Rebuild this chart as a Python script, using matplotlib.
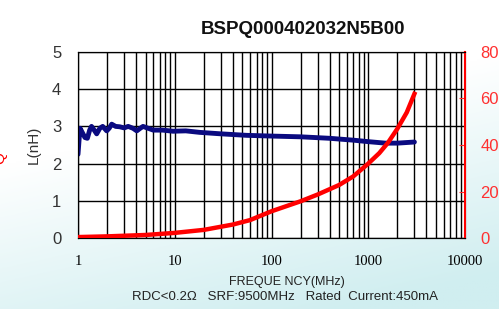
import matplotlib.pyplot as plt
import numpy as np
from matplotlib.colors import LinearSegmentedColormap

# inductance curve (MHz, nH)
freq_L = [1.0, 1.03, 1.05, 1.1, 1.18, 1.25, 1.32, 1.38, 1.47, 1.56, 1.68, 1.8,
          1.98, 2.1, 2.23, 2.45, 2.7, 3.0, 3.3, 3.7, 4.05, 4.4, 4.7, 5.3, 6.0,
          7.5, 9.6, 13, 18, 30, 55, 100, 200, 400, 700, 1000, 1500, 2000, 3000]
L_nH = [2.25, 2.7, 2.95, 2.85, 2.7, 2.68, 2.9, 3.0, 2.9, 2.8, 2.95, 3.0,
        2.88, 2.95, 3.06, 3.0, 2.99, 2.96, 3.0, 2.95, 2.88, 2.95, 3.0, 2.95, 2.9,
        2.9, 2.87, 2.88, 2.84, 2.8, 2.76, 2.74, 2.72, 2.68, 2.63, 2.59, 2.55, 2.55, 2.58]

# Q curve
freq_Q = [1, 2, 5, 10, 20, 40, 60, 100, 200, 300, 500, 700, 1000, 1300, 1600,
          2000, 2500, 3000]
Q_val = [0.4, 0.7, 1.3, 2.2, 3.5, 5.8, 7.7, 11.5, 15.8, 18.7, 22.8, 26.5, 32,
         36.5, 41, 47, 54, 62]

x_ticks = [1, 10, 100, 1000, 10000]
x_labels = ['1', '10', '100', '1000', '10000']

fig = plt.figure(figsize=(4.99, 3.09), dpi=100)

# light cyan gradient background, stronger toward the bottom right
bg = fig.add_axes([0, 0, 1, 1], zorder=-10)
yy, xx = np.mgrid[0:1:200j, 0:1:300j]
grad = np.clip((1 - yy) * 1.4 + xx * 0.5 - 0.75, 0, 1)
cmap = LinearSegmentedColormap.from_list('bg', ['#ffffff', '#d0eef0'])
bg.imshow(grad, cmap=cmap, aspect='auto', extent=[0, 1, 0, 1], origin='lower')
bg.axis('off')

ax = fig.add_axes([78 / 499, (309 - 238) / 309, 387 / 499, 186 / 309])
ax.set_facecolor('white')
ax.set_xscale('log')
ax.set_xlim(1, 10000)
ax.set_ylim(0, 5)
ax.grid(which='major', color='black', linewidth=1)
ax.grid(which='minor', axis='x', color='black', linewidth=1)
ax.plot(freq_L, L_nH, color='#0a0a80', linewidth=3.5, solid_capstyle='round', zorder=3)
ax.set_xticks(x_ticks)
ax.set_xticklabels(x_labels, family='Liberation Serif', fontsize=10.5)
ax.set_yticks(range(6))
ax.tick_params(axis='y', labelsize=12, length=0, pad=12, labelcolor='#333333')
ax.tick_params(axis='x', which='both', length=0, pad=12)
for lab in ax.get_yticklabels():
    lab.set_family('Liberation Sans')
ax.set_ylabel('L(nH)', fontsize=11, family='Liberation Sans', color='#333333', labelpad=8)
for s in ax.spines.values():
    s.set_color('black')

ax2 = ax.twinx()
ax2.plot(freq_Q, Q_val, color='red', linewidth=3.2, zorder=3)
ax2.set_ylim(0, 80)
ax2.set_yticks([0, 20, 40, 60, 80])
ax2.tick_params(axis='y', colors='#ff3030', direction='in', length=4, labelsize=12, pad=11)
for lab in ax2.get_yticklabels():
    lab.set_family('Liberation Sans')
ax2.spines['right'].set_color('red')
ax2.spines['right'].set_linewidth(1.5)

fig.text(0.607, 0.905, 'BSPQ000402032N5B00', ha='center', va='center',
         fontsize=13.5, fontweight='bold', family='Liberation Sans', color='#111111')
fig.text(0.575, 0.087, 'FREQUE NCY(MHz)', ha='center', va='center',
         fontsize=9, family='Liberation Sans', color='#222222')
fig.text(0.571, 0.038, 'RDC<0.2\u03a9   SRF:9500MHz   Rated  Current:450mA', ha='center',
         va='center', fontsize=9.5, family='Liberation Sans', color='#222222')
fig.text(0.0, 0.49, 'Q', ha='center', va='center', rotation=90, color='red',
         fontsize=11, family='Liberation Sans')

fig.savefig('out.png', dpi=100)
